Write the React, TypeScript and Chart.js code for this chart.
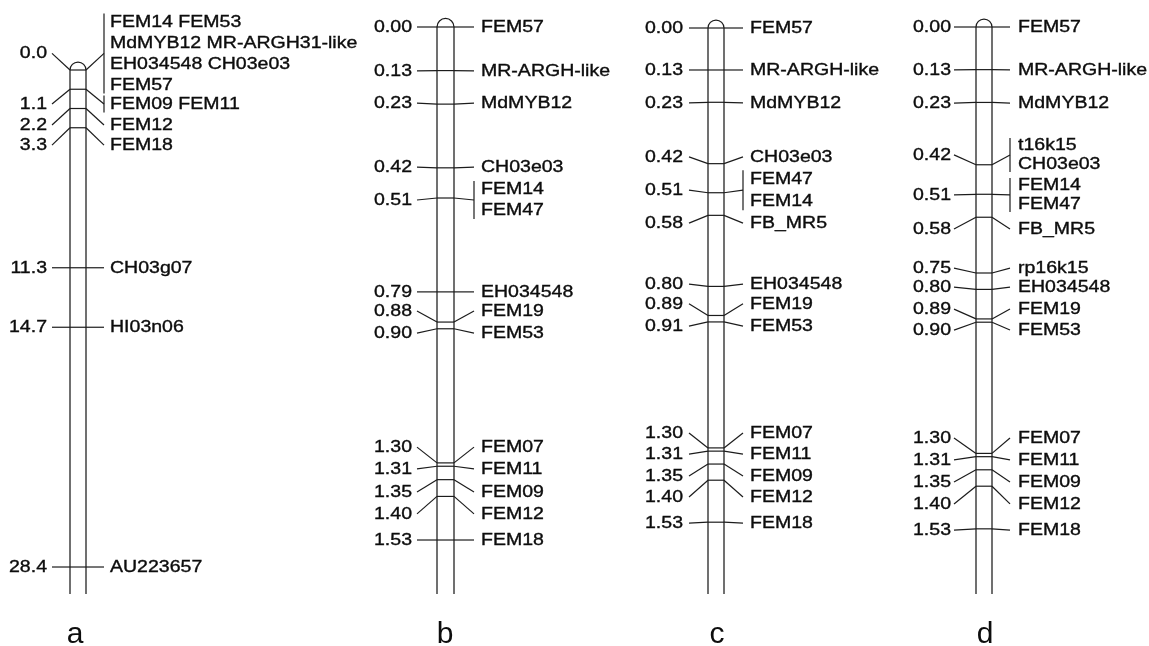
import React, { useEffect, useRef } from "react";
import { Chart, registerables } from "chart.js";
Chart.register(...registerables);

// ---------- Panel a (cM) ----------
const aMarkers = [0.0, 1.1, 2.2, 3.3, 11.3, 14.7, 28.4];
const aLeftLabels = ["0.0", "1.1", "2.2", "3.3", "11.3", "14.7", "28.4"];
const aLabelPos = [-0.95, 1.94, 3.14, 4.29, 11.3, 14.7, 28.4];
const aRightLabels = [
  ["FEM14 FEM53", "MdMYB12 MR-ARGH31-like", "EH034548 CH03e03", "FEM57"],
  ["FEM09 FEM11"],
  ["FEM12"],
  ["FEM18"],
  ["CH03g07"],
  ["HI03n06"],
  ["AU223657"],
];
const aBracket = [true, true, false, false, false, false, false];
const aLength = 29.94;

// ---------- Panel b ----------
const bMarkers = [0.0, 0.13, 0.23, 0.42, 0.51, 0.79, 0.88, 0.9, 1.3, 1.31, 1.35, 1.4, 1.53];
const bLeftLabels = ["0.00", "0.13", "0.23", "0.42", "0.51", "0.79", "0.88", "0.90", "1.30", "1.31", "1.35", "1.40", "1.53"];
const bLabelPos = [0.0, 0.131, 0.227, 0.418, 0.516, 0.79, 0.847, 0.913, 1.253, 1.318, 1.387, 1.452, 1.53];
const bRightLabels = [
  ["FEM57"], ["MR-ARGH-like"], ["MdMYB12"], ["CH03e03"], ["FEM14", "FEM47"],
  ["EH034548"], ["FEM19"], ["FEM53"], ["FEM07"], ["FEM11"], ["FEM09"], ["FEM12"], ["FEM18"],
];
const bBracket = [false, false, false, false, true, false, false, false, false, false, false, false, false];
const bLength = 1.691;

// ---------- Panel c ----------
const cMarkers = [0.0, 0.13, 0.23, 0.42, 0.51, 0.58, 0.8, 0.89, 0.91, 1.3, 1.31, 1.35, 1.4, 1.53];
const cLeftLabels = ["0.00", "0.13", "0.23", "0.42", "0.51", "0.58", "0.80", "0.89", "0.91", "1.30", "1.31", "1.35", "1.40", "1.53"];
const cLabelPos = [0.0, 0.13, 0.232, 0.399, 0.502, 0.604, 0.793, 0.854, 0.923, 1.254, 1.319, 1.387, 1.452, 1.533];
const cRightLabels = [
  ["FEM57"], ["MR-ARGH-like"], ["MdMYB12"], ["CH03e03"], ["FEM47", "FEM14"], ["FB_MR5"],
  ["EH034548"], ["FEM19"], ["FEM53"], ["FEM07"], ["FEM11"], ["FEM09"], ["FEM12"], ["FEM18"],
];
const cBracket = [false, false, false, false, true, false, false, false, false, false, false, false, false, false];
const cLength = 1.752;

// ---------- Panel d ----------
const dMarkers = [0.0, 0.13, 0.23, 0.42, 0.51, 0.58, 0.75, 0.8, 0.89, 0.9, 1.3, 1.31, 1.35, 1.4, 1.53];
const dLeftLabels = ["0.00", "0.13", "0.23", "0.42", "0.51", "0.58", "0.75", "0.80", "0.89", "0.90", "1.30", "1.31", "1.35", "1.40", "1.53"];
const dLabelPos = [0.0, 0.131, 0.232, 0.39, 0.512, 0.616, 0.735, 0.793, 0.86, 0.924, 1.253, 1.32, 1.387, 1.454, 1.534];
const dRightLabels = [
  ["FEM57"], ["MR-ARGH-like"], ["MdMYB12"], ["t16k15", "CH03e03"], ["FEM14", "FEM47"], ["FB_MR5"],
  ["rp16k15"], ["EH034548"], ["FEM19"], ["FEM53"], ["FEM07"], ["FEM11"], ["FEM09"], ["FEM12"], ["FEM18"],
];
const dBracket = [false, false, false, true, true, false, false, false, false, false, false, false, false, false, false];
const dLength = 1.729;

const panelLetters = ["a", "b", "c", "d"];

type Panel = {
  scaleId: string;
  markers: number[];
  leftLabels: string[];
  labelPos: number[];
  rightLabels: string[][];
  bracket: boolean[];
  length: number;
  center: number;
  half: number;
  connL: number;
  gapL: number;
  connR: number;
  gapR: number;
  spacing: number;
  letter: string;
  letterX: number;
};

const panels: Panel[] = [
  { scaleId: "ya", markers: aMarkers, leftLabels: aLeftLabels, labelPos: aLabelPos, rightLabels: aRightLabels, bracket: aBracket, length: aLength, center: 78, half: 8, connL: 18, gapL: 5, connR: 18, gapR: 6, spacing: 21, letter: panelLetters[0], letterX: 75 },
  { scaleId: "yb", markers: bMarkers, leftLabels: bLeftLabels, labelPos: bLabelPos, rightLabels: bRightLabels, bracket: bBracket, length: bLength, center: 445.5, half: 8.5, connL: 20, gapL: 5, connR: 20, gapR: 7, spacing: 21, letter: panelLetters[1], letterX: 445 },
  { scaleId: "yc", markers: cMarkers, leftLabels: cLeftLabels, labelPos: cLabelPos, rightLabels: cRightLabels, bracket: cBracket, length: cLength, center: 716, half: 8, connL: 19, gapL: 6, connR: 19, gapR: 7, spacing: 22, letter: panelLetters[2], letterX: 717 },
  { scaleId: "yd", markers: dMarkers, leftLabels: dLeftLabels, labelPos: dLabelPos, rightLabels: dRightLabels, bracket: dBracket, length: dLength, center: 984, half: 8, connL: 22, gapL: 3, connR: 18, gapR: 8, spacing: 19, letter: panelLetters[3], letterX: 985 },
];

const LINE = "#1c1c1c";
const TEXT = "#0d0d0d";
const FONT = '16px "Liberation Sans", Arial, sans-serif';
const STRETCH = 1.22;

function drawText(ctx: CanvasRenderingContext2D, text: string, x: number, y: number, align: CanvasTextAlign) {
  ctx.save();
  ctx.translate(x, y);
  ctx.scale(STRETCH, 1);
  ctx.textAlign = align;
  ctx.textBaseline = "middle";
  ctx.lineWidth = 0.35;
  ctx.strokeStyle = TEXT;
  ctx.fillText(text, 0, 0.5);
  ctx.strokeText(text, 0, 0.5);
  ctx.restore();
}

const mapPlugin = {
  id: "linkageMap",
  afterDraw(chart: any) {
    const ctx: CanvasRenderingContext2D = chart.ctx;
    const xs = chart.scales.x;
    ctx.save();
    ctx.fillStyle = TEXT;
    ctx.font = FONT;
    panels.forEach((p) => {
      const ys = chart.scales[p.scaleId];
      const cx = xs.getPixelForValue(p.center);
      const cl = xs.getPixelForValue(p.center - p.half);
      const cr = xs.getPixelForValue(p.center + p.half);
      const rad = cr - cx;
      const top = ys.getPixelForValue(0);
      const bottom = ys.getPixelForValue(p.length);
      ctx.strokeStyle = LINE;
      ctx.lineWidth = 1.25;
      // chromosome body
      ctx.beginPath();
      ctx.moveTo(cl, bottom);
      ctx.lineTo(cl, top);
      ctx.arc(cx, top, rad, Math.PI, 2 * Math.PI);
      ctx.lineTo(cr, bottom);
      ctx.stroke();
      p.markers.forEach((m, i) => {
        const my = ys.getPixelForValue(m);
        const ly = ys.getPixelForValue(p.labelPos[i]);
        ctx.strokeStyle = LINE;
        ctx.lineWidth = 1.2;
        // inner line
        ctx.beginPath();
        ctx.moveTo(cl, my);
        ctx.lineTo(cr, my);
        ctx.stroke();
        // left connector
        const lx = cl - p.connL;
        ctx.beginPath();
        ctx.moveTo(cl, my);
        ctx.lineTo(lx, ly);
        ctx.stroke();
        // right connector
        const rx = cr + p.connR;
        ctx.beginPath();
        ctx.moveTo(cr, my);
        ctx.lineTo(rx, ly);
        ctx.stroke();
        const lines = p.rightLabels[i];
        const n = lines.length;
        if (p.bracket[i]) {
          const h = (n * p.spacing) / 2 - 2;
          ctx.beginPath();
          ctx.moveTo(rx, ly - h);
          ctx.lineTo(rx, ly + h);
          ctx.stroke();
        }
        drawText(ctx, p.leftLabels[i], lx - p.gapL, ly, "right");
        lines.forEach((t, k) => {
          const ty = ly + (k - (n - 1) / 2) * p.spacing;
          drawText(ctx, t, rx + p.gapR, ty, "left");
        });
      });
      // panel letter
      ctx.save();
      ctx.font = '30px "Liberation Sans", Arial, sans-serif';
      ctx.textAlign = "center";
      ctx.textBaseline = "alphabetic";
      ctx.fillText(p.letter, xs.getPixelForValue(p.letterX), chart.chartArea.bottom - 3);
      ctx.restore();
    });
    ctx.restore();
  },
};

export default function App() {
  const ref = useRef<HTMLCanvasElement | null>(null);
  useEffect(() => {
    if (!ref.current) return;
    const hidden = (min: number, max: number) => ({
      type: "linear" as const,
      display: false,
      reverse: true,
      min,
      max,
    });
    const chart = new Chart(ref.current, {
      type: "scatter",
      data: { datasets: [] },
      options: {
        animation: false,
        responsive: true,
        maintainAspectRatio: false,
        layout: { padding: 0 },
        plugins: { legend: { display: false }, tooltip: { enabled: false }, title: { display: false } },
        scales: {
          x: { type: "linear", display: false, min: 0, max: 1149 },
          ya: hidden(-4.0, 32.914),
          yb: hidden(-0.08052, 1.8461),
          yc: hidden(-0.08669, 1.9133),
          yd: hidden(-0.08232, 1.8872),
        },
      },
      plugins: [mapPlugin],
    } as any);
    return () => chart.destroy();
  }, []);
  return (
    <div style={{ position: "absolute", left: 0, top: 0, width: 1149, height: 646, background: "#fff" }}>
      <canvas ref={ref} />
    </div>
  );
}
